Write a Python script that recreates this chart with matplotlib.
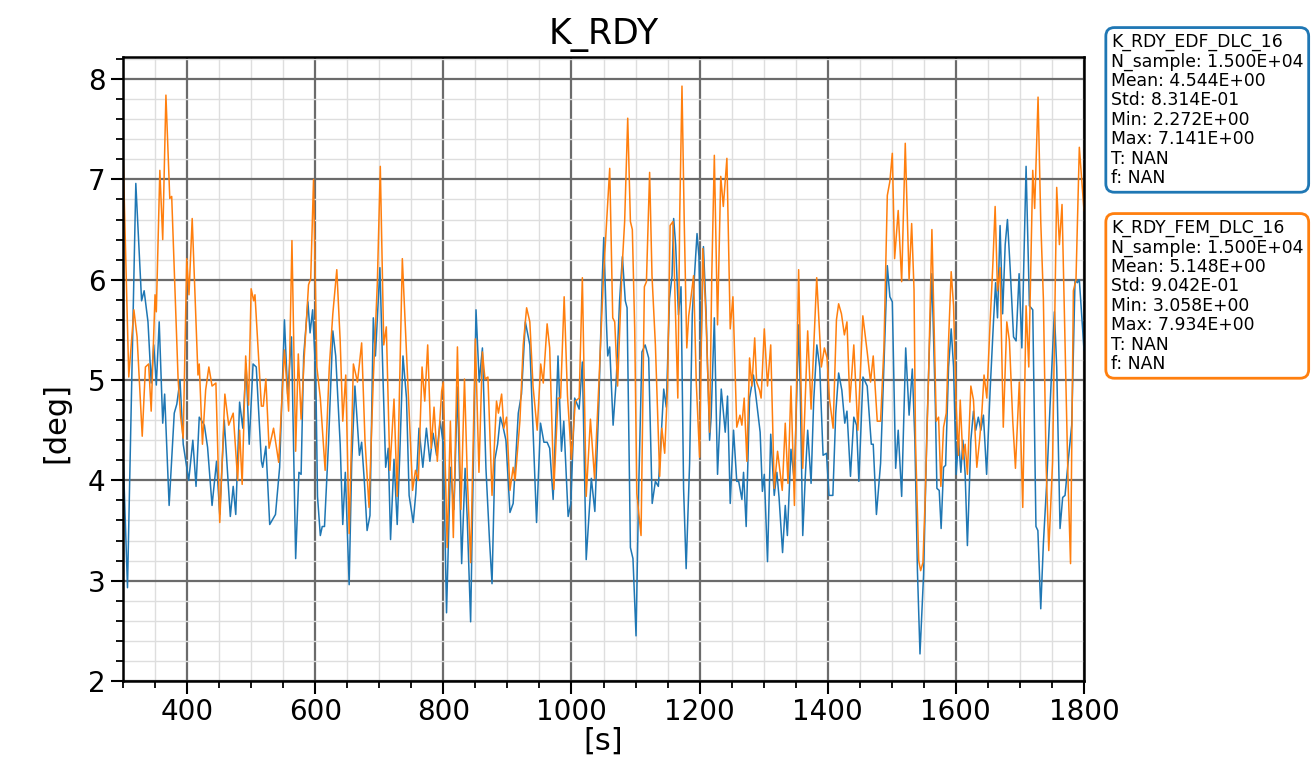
import matplotlib
matplotlib.use("Agg")
import matplotlib.pyplot as plt
from matplotlib.ticker import MultipleLocator

# K_RDY time histories, EDF vs FEM, DLC 16
t_edf = [300, 307, 320, 329, 333, 339, 344, 348, 352, 356.5, 362, 365, 372, 380, 384, 389, 394, 402.6,
         409, 414, 419, 427, 432, 439, 446, 451, 458, 467.5, 472, 476, 482, 487, 492, 497, 503, 508,
         516, 518, 523, 529, 538, 544.5, 552, 557, 563, 569.5, 574.6, 578, 582, 588.6, 592, 596, 601,
         603.6, 608, 611, 614.5, 620.7, 627.5, 632, 639, 643, 647, 653, 657, 662, 669, 672.5, 676.7,
         681, 685.5, 690.7, 694, 701, 706, 710, 714, 717.6, 723, 728, 732, 737, 742.5, 746.6, 753, 757,
         762, 768, 773.6, 779, 784, 789.5, 795, 800, 805, 811, 816.6, 822, 828.6, 834, 837.4, 842.6,
         846.8, 851, 856, 861, 866.5, 872, 876, 880.5, 884.7, 889, 893, 897.7, 904, 909, 917, 922, 928,
         935, 945.5, 951.7, 957, 962, 966, 971.4, 979, 984.4, 988, 994.8, 999, 1005, 1012, 1017, 1023,
         1031, 1036.5, 1042.6, 1048, 1050.4, 1054.5, 1056.6, 1059.7, 1065, 1070, 1075, 1079.5, 1084,
         1086.8, 1092, 1096, 1100.8, 1105, 1110, 1115, 1120.5, 1126, 1131, 1135.6, 1139.7, 1144, 1148,
         1153, 1157, 1159.5, 1162.6, 1167, 1171, 1175, 1179, 1184.4, 1188.6, 1192, 1196, 1199, 1202,
         1206, 1210, 1215.6, 1218, 1223, 1228, 1233.8, 1240, 1243.6, 1247.8, 1253, 1258, 1261, 1266,
         1268.6, 1272.7, 1278, 1284, 1289, 1294.5, 1298, 1301, 1306, 1311, 1316.5, 1320.6, 1324,
         1329.5, 1333.7, 1337, 1342.6, 1347.8, 1354.6, 1357, 1361, 1365, 1368.7, 1374, 1378, 1383,
         1387.5, 1392.7, 1398, 1402, 1408, 1412.5, 1417, 1422, 1426.6, 1430, 1435.5, 1440.7, 1445,
         1448.6, 1455, 1461.6, 1468, 1471, 1476, 1482.5, 1487.7, 1493, 1497, 1500.8, 1506, 1510,
         1515.4, 1521.7, 1527, 1532, 1536, 1540, 1544, 1549.6, 1555, 1559, 1562.6, 1568, 1570.4, 1574,
         1577, 1580.8, 1584, 1588.6, 1592.7, 1596.4, 1600.5, 1604, 1607.8, 1611, 1614.5, 1618, 1623.4,
         1627.5, 1631, 1635, 1639, 1643, 1648, 1653.5, 1658.7, 1662, 1665, 1669, 1673, 1677, 1680.5,
         1684.7, 1690, 1694, 1698.7, 1703, 1709.6, 1714.8, 1720, 1725, 1728, 1732.5, 1736.6, 1742,
         1747, 1753.8, 1757.4, 1762.6, 1766.7, 1770.4, 1775.6, 1780.8, 1786, 1789.6, 1792.7, 1800]
y_edf = [4.3, 2.93, 6.96, 5.79, 5.89, 5.58, 4.97, 5.35, 4.95, 5.58, 4.57, 4.86, 3.75, 4.67, 4.76, 5.0, 4.36, 4.0,
         4.4, 3.94, 4.63, 4.55, 4.33, 3.75, 4.19, 3.66, 4.6, 3.64, 3.94, 3.66, 4.78, 4.52, 5.16, 4.36, 5.16, 5.13,
         4.19, 4.13, 4.34, 3.56, 3.66, 4.13, 5.60, 4.86, 5.43, 3.22, 4.08, 4.06, 5.24, 5.78, 5.47, 5.70, 5.02,
         3.84, 3.45, 3.54, 3.54, 4.36, 5.49, 5.24, 4.36, 3.56, 4.08, 2.96, 4.18, 4.94, 4.25, 4.38, 3.99,
         3.50, 3.65, 5.62, 5.24, 6.12, 4.98, 4.13, 4.32, 3.41, 4.21, 3.56, 4.25, 5.24, 4.82, 3.85, 3.58, 3.87,
         4.52, 4.13, 4.52, 4.19, 4.47, 4.25, 4.59, 4.36, 2.68, 4.13, 3.71, 4.93, 3.17, 4.12, 3.60, 2.59,
         4.13, 5.70, 4.98, 5.32, 4.12, 3.41, 2.97, 4.21, 4.36, 4.63, 4.54, 4.40, 3.68, 3.77, 4.67, 4.86, 5.58,
         5.35, 3.58, 4.57, 4.38, 4.38, 4.32, 3.81, 5.24, 4.29, 4.59, 3.64, 3.77, 4.82, 4.71, 5.18, 3.21,
         4.02, 3.69, 4.74, 6.0, 6.42, 5.58, 5.24, 5.33, 4.55, 5.01, 5.78, 6.23, 5.79,
         5.72, 3.33, 3.22, 2.45, 3.94, 5.28, 5.35, 5.22, 3.77, 3.99, 3.94, 4.40, 4.91, 4.73,
         5.81, 6.04, 6.61, 6.35, 5.65, 5.93, 3.92, 3.12, 4.17, 5.66, 6.04, 6.46, 6.23, 5.24,
         6.33, 5.70, 4.40, 4.63, 5.62, 4.06, 4.91, 4.48, 4.84, 3.77, 4.50, 3.99, 3.99, 3.81,
         4.08, 3.54, 4.82, 5.05, 4.78, 4.48, 3.89, 4.06, 3.19, 4.46, 3.85, 4.08, 3.83,
         3.28, 3.75, 3.45, 4.31, 3.99, 5.55, 4.94, 3.45, 4.04, 4.50, 3.97, 4.78, 5.35,
         5.13, 4.25, 4.27, 3.85, 3.85, 4.67, 5.07, 4.90, 4.57, 4.69, 4.04, 4.63, 4.55,
         3.99, 5.03, 4.94, 4.36, 4.36, 3.66, 4.17, 5.13, 6.14, 5.83, 5.78, 4.12, 4.50,
         3.84, 5.32, 4.65, 5.11, 4.4, 3.1, 2.27, 3.06, 4.55, 5.39, 6.06, 4.74, 3.92, 3.90,
         3.52, 4.13, 4.15, 5.13, 5.51, 5.13, 4.06, 4.42, 4.08, 4.40, 4.06, 3.35, 4.40,
         4.69, 4.50, 4.63, 4.50, 4.65, 4.06, 4.90, 5.58, 5.97, 5.62, 6.54, 5.66, 6.35, 6.60,
         6.12, 5.43, 5.39, 6.06, 5.32, 7.13, 5.74, 5.70, 3.54, 3.50, 2.72, 3.37, 4.0,
         4.74, 5.68, 5.13, 3.52, 3.83, 3.85, 4.21, 4.55, 6.0, 5.97, 6.0, 5.3]

t_fem = [300, 309, 317, 322, 330, 335, 340, 344, 350, 352, 357.5, 362, 367, 373, 376, 386, 390, 394, 399.5,
         403, 408, 417, 419, 424, 429, 434, 439, 445, 451, 459, 465, 472, 479, 482, 486, 491.5, 496, 500,
         504, 506, 516, 519, 523, 528, 535, 543, 552, 558.5, 563.7, 569.5, 573.6, 578, 583, 589.6, 593,
         597.4, 602.6, 608, 615.5, 622, 627.5, 633.7, 639, 643, 647.7, 653, 659.6, 666, 672.5, 677.7,
         684, 690.7, 697, 701.6, 707, 711, 716.6, 723, 728, 736, 742.5, 752, 756.5, 761, 766.8, 771,
         775.6, 781, 785.5, 790.6, 797.4, 800, 806, 811, 815.6, 822, 827.5, 833, 837.4, 842.6, 850,
         855.6, 861, 865, 869.6, 876, 883, 886, 891, 894.5, 898.7, 904, 909, 912, 919.5, 924.7, 930,
         935, 940, 946.5, 952, 956, 962, 966, 972.5, 979, 983, 988.6, 993.8, 1000, 1006, 1012, 1017,
         1023, 1029.6, 1036, 1042.6, 1050, 1054.5, 1059.7, 1064.4, 1067.5, 1072, 1079, 1083, 1087.8,
         1092, 1095, 1098.7, 1102, 1108.6, 1113.8, 1117, 1122, 1125.7, 1131, 1137.7, 1141, 1145.5,
         1150, 1154, 1158.4, 1163.6, 1166, 1169, 1172.5, 1176, 1180, 1183, 1185, 1190.6, 1194.8, 1200,
         1205, 1210, 1215.6, 1219, 1223, 1228, 1233, 1237, 1242.6, 1247.8, 1252, 1258, 1263, 1266,
         1269.6, 1273.8, 1278, 1281.6, 1286, 1289, 1293.5, 1296, 1301, 1306, 1311, 1316.5, 1321.7,
         1329, 1333.7, 1338, 1342.6, 1348, 1354.6, 1361, 1368.7, 1374, 1382.8, 1390, 1394.8, 1399,
         1402.6, 1408.4, 1413.6, 1417, 1421.4, 1426, 1430, 1434.5, 1440.7, 1447, 1454.8, 1461.6,
         1466.8, 1471, 1477.3, 1482.5, 1487.7, 1493, 1497, 1500.8, 1504.4, 1510, 1515.4, 1521, 1527,
         1531, 1534.7, 1537, 1542, 1545, 1548.6, 1552, 1557.4, 1562.6, 1566, 1569.4, 1573, 1576.6,
         1580.8, 1585, 1588.6, 1592.7, 1596.4, 1600.5, 1604, 1606.8, 1611, 1614.5, 1618, 1623.4,
         1627.5, 1632.7, 1637, 1640.5, 1644, 1648.3, 1653.5, 1657.7, 1661.3, 1665, 1669, 1674,
         1679.5, 1683.6, 1688.8, 1693, 1699, 1704.4, 1709.6, 1713.8, 1720, 1723, 1728.3, 1732.5,
         1736.6, 1740.8, 1745, 1751, 1757.4, 1761.6, 1765.7, 1770.4, 1775, 1779, 1783.4, 1787.5,
         1792.7, 1800]
y_fem = [7.3, 5.03, 5.70, 5.43, 4.44, 5.13, 5.16, 4.69, 5.85, 5.68, 7.09, 6.40, 7.84, 6.81, 6.83, 5.01, 4.63, 4.42, 6.21,
         5.85, 6.61, 5.05, 5.16, 4.36, 4.9, 5.13, 4.94, 4.97, 3.58, 4.86, 4.55, 4.67, 4.0, 4.5, 3.96, 5.24, 4.75, 5.91,
         5.79, 5.85, 4.74, 4.74, 5.01, 4.32, 4.52, 4.18, 5.30, 4.69, 6.39, 4.29, 5.26, 4.61, 5.24, 5.95, 6.01,
         7.0, 5.13, 4.82, 4.10, 5.13, 5.66, 6.10, 5.39, 4.59, 5.05, 3.47, 5.16, 4.98, 5.37, 4.40,
         3.73, 5.01, 5.97, 7.13, 5.35, 5.53, 4.10, 4.81, 3.84, 6.21, 5.28, 3.90, 4.10, 4.0, 5.13, 4.79,
         5.35, 4.32, 4.73, 4.19, 4.89, 4.98, 3.33, 4.59, 3.43, 5.33, 3.71, 5.01, 4.04, 3.18, 5.41,
         4.08, 5.28, 5.01, 5.03, 3.85, 4.79, 4.67, 4.86, 4.52, 4.63, 3.90, 4.13, 4.0, 4.59, 5.35, 5.72,
         5.58, 4.94, 4.50, 5.16, 4.97, 5.56, 5.32, 3.91, 4.82, 4.82, 5.83, 4.84, 4.21, 4.79, 4.82, 6.02,
         3.84, 4.61, 4.02, 4.94, 6.04, 6.54, 7.11, 5.62, 5.58, 4.94, 6.12, 6.58, 7.61,
         6.58, 6.50, 5.51, 3.87, 3.45, 5.93, 5.98, 7.07, 6.04, 5.35, 4.04, 4.52, 4.27,
         4.94, 6.54, 6.58, 5.35, 4.82, 6.65, 7.93, 6.58, 5.32, 5.64, 5.74, 6.04, 4.98, 4.23,
         6.31, 5.62, 4.48, 6.04, 7.24, 5.55, 7.03, 6.73, 7.21, 5.51, 5.83, 4.53, 4.65, 4.55,
         4.82, 4.19, 5.22, 4.94, 5.42, 4.98, 4.90, 4.82, 5.51, 4.94, 5.35, 3.92, 4.29,
         3.90, 4.57, 3.97, 4.94, 3.75, 6.10, 4.12, 5.49, 4.71, 6.02, 5.13, 5.32, 5.22,
         4.82, 4.52, 5.60, 5.76, 5.66, 5.45, 5.58, 4.78, 5.35, 4.50, 5.64, 5.28,
         4.98, 5.24, 4.59, 4.59, 5.32, 6.84, 6.98, 7.26, 6.21, 6.69, 5.98, 7.36, 6.0,
         6.56, 5.9, 4.4, 3.2, 3.1, 3.18, 3.79, 5.05, 6.50, 5.55, 4.59, 4.63, 3.94,
         4.53, 4.67, 5.39, 6.08, 5.74, 4.74, 4.25, 4.80, 4.21, 4.36, 4.06, 4.94,
         4.80, 4.13, 4.40, 4.67, 5.05, 4.82, 5.58, 6.15, 6.73, 5.89, 6.12, 4.53,
         5.58, 5.39, 4.59, 4.12, 4.98, 3.73, 5.74, 5.13, 7.09, 6.71, 7.82, 6.58,
         5.81, 4.17, 3.30, 4.19, 6.92, 6.35, 6.75, 5.37, 4.02, 3.17, 5.89, 6.0,
         7.32, 6.69]

stats_edf = ["K_RDY_EDF_DLC_16", "N_sample: 1.500E+04", "Mean: 4.544E+00", "Std: 8.314E-01",
             "Min: 2.272E+00", "Max: 7.141E+00", "T: NAN", "f: NAN"]
stats_fem = ["K_RDY_FEM_DLC_16", "N_sample: 1.500E+04", "Mean: 5.148E+00", "Std: 9.042E-01",
             "Min: 3.058E+00", "Max: 7.934E+00", "T: NAN", "f: NAN"]

fig = plt.figure(figsize=(13.15, 7.73), dpi=100)
ax = fig.add_axes([123 / 1315, 1 - 681 / 773, (1084 - 123) / 1315, (681 - 57) / 773])

ax.plot(t_edf, y_edf, color="tab:blue", lw=1.1)
ax.plot(t_fem, y_fem, color="tab:orange", lw=1.1)

ax.set_xlim(300, 1800)
ax.set_ylim(2, 8.22)
ax.xaxis.set_major_locator(MultipleLocator(200))
ax.xaxis.set_minor_locator(MultipleLocator(50))
ax.yaxis.set_major_locator(MultipleLocator(1))
ax.yaxis.set_minor_locator(MultipleLocator(0.2))
ax.grid(which="major", color="#6b6b6b", lw=1.6)
ax.grid(which="minor", color="#dedede", lw=1.0)
ax.set_axisbelow(True)
ax.tick_params(which="major", labelsize=20, length=9, width=1.5)
ax.tick_params(which="minor", length=5, width=1.3)
for s in ax.spines.values():
    s.set_linewidth(1.8)

ax.set_title("K_RDY", fontsize=25, pad=9)
ax.set_xlabel("[s]", fontsize=22, labelpad=0)
ax.set_ylabel("[deg]", fontsize=22)
ax.yaxis.set_label_coords(-0.055, 0.415)

box = dict(boxstyle="round,pad=0.3,rounding_size=0.5", fc="white", lw=2)
fig.text(1111 / 1315, 1 - 33 / 773, "\n".join(stats_edf), fontsize=12.4, va="top", ha="left",
         linespacing=1.1, bbox=dict(box, ec="tab:blue"))
fig.text(1111 / 1315, 1 - 219 / 773, "\n".join(stats_fem), fontsize=12.4, va="top", ha="left",
         linespacing=1.1, bbox=dict(box, ec="tab:orange"))

fig.savefig("out.png", dpi=100)
